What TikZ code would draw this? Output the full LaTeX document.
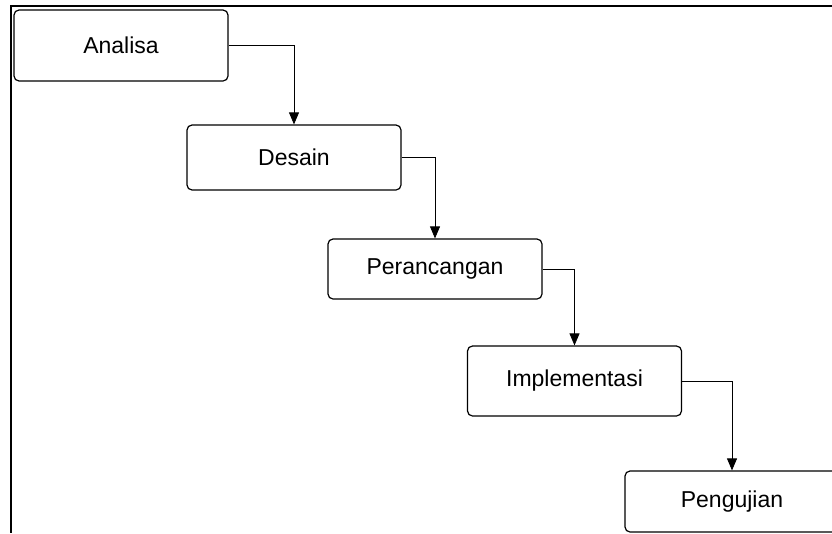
\documentclass[tikz,border=0pt]{standalone}
\usepackage{fontspec}
\setmainfont{Liberation Sans}
\usetikzlibrary{arrows.meta}

\begin{document}
\begin{tikzpicture}[x=1pt,y=-1pt]
			\useasboundingbox (0,0) rectangle (832,533);
			% frame
			\draw[line width=1.3pt] (832,6) -- (11,6) -- (11,533);

			\begin{scope}[every node/.style = {shape=rectangle, rounded corners=5pt, draw, line width=1.2pt, minimum width=214pt, align=center, font=\fontsize{23}{27}\selectfont}]
				\node (analisa) [minimum height=71pt] at (121,45.5) {Analisa};
				\node (desain) [minimum height=65pt] at (294,157.5) {Desain};
				\node (perancangan) [minimum height=60pt] at (435,269) {Perancangan};
				\node (implementasi) [minimum height=70pt] at (574.5,381) {Implementasi};
				\node (pengujian) [minimum height=61pt] at (732,501.5) {Pengujian};
			\end{scope}

			\begin{scope}[line width=0.8pt, -{Triangle[length=12pt,width=10pt]}]
				\draw (analisa.east) -| (desain.north);
				\draw (desain.east) -| (perancangan.north);
				\draw (perancangan.east) -| (implementasi.north);
				\draw (implementasi.east) -| (pengujian.north);
			\end{scope}
		\end{tikzpicture}
\end{document}
